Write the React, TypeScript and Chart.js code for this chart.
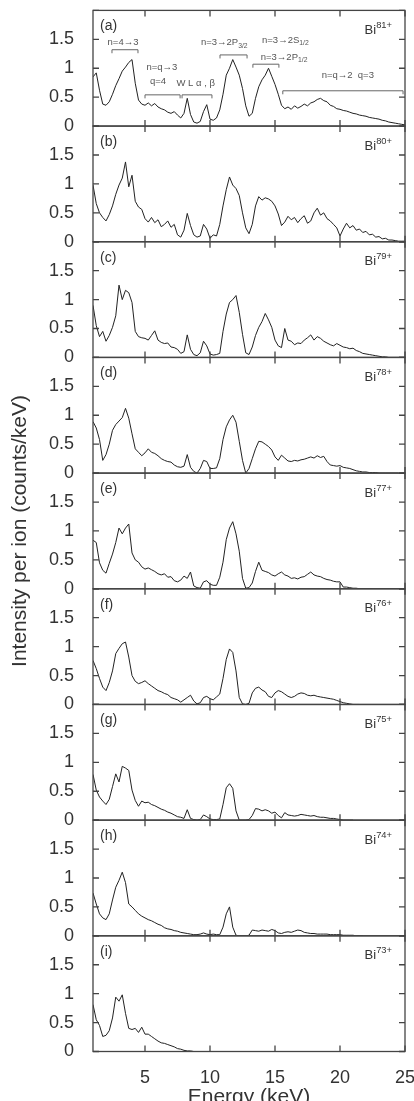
import React, { useEffect, useRef } from 'react';
import { Chart, registerables } from 'chart.js';

Chart.register(...registerables);

const FONT = '"Liberation Sans", Arial, Helvetica, sans-serif';

// Energy grid (keV)
const energy = [
  1.0, 1.25, 1.5, 1.75, 2.0, 2.25, 2.5, 2.75, 3.0, 3.25, 3.5, 3.75, 4.0, 4.25, 4.5, 4.75,
  5.0, 5.25, 5.5, 5.75, 6.0, 6.25, 6.5, 6.75, 7.0, 7.25, 7.5, 7.75, 8.0, 8.25, 8.5, 8.75,
  9.0, 9.25, 9.5, 9.75, 10.0, 10.25, 10.5, 10.75, 11.0, 11.25, 11.5, 11.75, 12.0, 12.25, 12.5, 12.75,
  13.0, 13.25, 13.5, 13.75, 14.0, 14.25, 14.5, 14.75, 15.0, 15.25, 15.5, 15.75, 16.0, 16.25, 16.5, 16.75,
  17.0, 17.25, 17.5, 17.75, 18.0, 18.25, 18.5, 18.75, 19.0, 19.25, 19.5, 19.75, 20.0, 20.25, 20.5, 20.75,
  21.0, 21.25, 21.5, 21.75, 22.0, 22.25, 22.5, 22.75, 23.0, 23.25, 23.5, 23.75, 24.0, 24.25, 24.5, 24.75, 25.0,
];

// Intensity per ion (counts/keV), one array per charge state
const spectrumA = [
  0.85, 0.92, 0.62, 0.38, 0.36, 0.42, 0.55, 0.70, 0.82, 0.95, 1.02, 1.10, 1.15, 0.74, 0.45, 0.38,
  0.36, 0.40, 0.35, 0.39, 0.33, 0.30, 0.28, 0.24, 0.22, 0.25, 0.19, 0.14, 0.22, 0.48, 0.20, 0.07,
  0.05, 0.08, 0.25, 0.37, 0.12, 0.10, 0.14, 0.28, 0.55, 0.88, 1.00, 1.15, 1.02, 0.88, 0.65, 0.35,
  0.17, 0.22, 0.48, 0.68, 0.80, 0.88, 1.00, 0.86, 0.72, 0.55, 0.36, 0.30, 0.33, 0.29, 0.35, 0.31,
  0.34, 0.38, 0.35, 0.40, 0.42, 0.46, 0.48, 0.44, 0.42, 0.36, 0.34, 0.30, 0.29, 0.27, 0.26, 0.24,
  0.22, 0.21, 0.19, 0.18, 0.17, 0.15, 0.14, 0.13, 0.12, 0.10, 0.09, 0.07, 0.06, 0.05, 0.04, 0.03, 0.02,
];
const spectrumB = [
  0.98, 0.66, 0.50, 0.42, 0.36, 0.47, 0.62, 0.82, 0.98, 1.10, 1.38, 0.95, 1.15, 0.70, 0.60, 0.56,
  0.40, 0.34, 0.42, 0.33, 0.38, 0.26, 0.30, 0.36, 0.25, 0.30, 0.12, 0.08, 0.20, 0.49, 0.28, 0.12,
  0.08, 0.10, 0.30, 0.22, 0.06, 0.12, 0.10, 0.30, 0.62, 0.90, 1.12, 0.98, 0.92, 0.80, 0.50, 0.24,
  0.14, 0.30, 0.62, 0.78, 0.72, 0.76, 0.74, 0.70, 0.62, 0.48, 0.28, 0.34, 0.44, 0.38, 0.42, 0.33,
  0.40, 0.45, 0.32, 0.36, 0.50, 0.58, 0.46, 0.50, 0.40, 0.36, 0.30, 0.24, 0.10, 0.22, 0.32, 0.24,
  0.28, 0.20, 0.22, 0.16, 0.18, 0.12, 0.13, 0.08, 0.09, 0.05, 0.06, 0.03, 0.03, 0.02, 0.01, 0.01, 0.01,
];
const spectrumC = [
  0.90, 0.55, 0.36, 0.45, 0.28, 0.38, 0.52, 0.72, 1.25, 1.00, 1.16, 1.12, 0.95, 0.45, 0.36, 0.34,
  0.33, 0.30, 0.38, 0.46, 0.30, 0.26, 0.24, 0.25, 0.18, 0.17, 0.14, 0.07, 0.10, 0.39, 0.14, 0.05,
  0.03, 0.08, 0.28, 0.20, 0.06, 0.04, 0.05, 0.07, 0.45, 0.75, 0.95, 1.00, 1.07, 0.78, 0.40, 0.08,
  0.05, 0.18, 0.38, 0.52, 0.62, 0.76, 0.65, 0.52, 0.30, 0.20, 0.17, 0.50, 0.30, 0.28, 0.22, 0.25,
  0.24, 0.30, 0.34, 0.39, 0.30, 0.36, 0.33, 0.28, 0.25, 0.22, 0.20, 0.24, 0.21, 0.18, 0.17, 0.15,
  0.16, 0.12, 0.10, 0.07, 0.06, 0.05, 0.04, 0.03, 0.02, 0.01, 0.01, 0.0, 0.0, 0.0, 0.0, 0.0, 0.0,
];
const spectrumD = [
  0.89, 0.78, 0.58, 0.22, 0.32, 0.50, 0.74, 0.84, 0.90, 0.96, 1.12, 0.95, 0.68, 0.42, 0.36, 0.30,
  0.35, 0.42, 0.36, 0.34, 0.30, 0.25, 0.22, 0.20, 0.19, 0.14, 0.11, 0.10, 0.12, 0.32, 0.10, 0.03,
  0.00, 0.08, 0.22, 0.20, 0.08, 0.08, 0.09, 0.25, 0.58, 0.80, 0.92, 1.00, 0.88, 0.55, 0.22, 0.00,
  0.08, 0.25, 0.42, 0.55, 0.54, 0.50, 0.46, 0.40, 0.28, 0.22, 0.31, 0.26, 0.21, 0.20, 0.22, 0.21,
  0.23, 0.24, 0.26, 0.28, 0.26, 0.30, 0.27, 0.29, 0.20, 0.14, 0.13, 0.12, 0.13, 0.10, 0.09, 0.08,
  0.06, 0.04, 0.03, 0.02, 0.02, 0.01, 0.01, 0.01, 0.0, 0.0, 0.0, 0.0, 0.0, 0.0, 0.0,
];
const spectrumE = [
  0.84, 0.80, 0.45, 0.32, 0.27, 0.44, 0.60, 0.80, 1.05, 0.95, 1.05, 1.12, 0.62, 0.50, 0.46, 0.38,
  0.34, 0.36, 0.33, 0.30, 0.26, 0.24, 0.26, 0.20, 0.21, 0.14, 0.12, 0.15, 0.22, 0.18, 0.29, 0.05,
  0.02, 0.01, 0.12, 0.14, 0.08, 0.06, 0.06, 0.20, 0.46, 0.85, 1.05, 1.16, 0.95, 0.65, 0.18, 0.01,
  0.02, 0.10, 0.30, 0.46, 0.32, 0.30, 0.28, 0.24, 0.22, 0.26, 0.29, 0.24, 0.22, 0.18, 0.19, 0.17,
  0.20, 0.21, 0.25, 0.29, 0.24, 0.22, 0.21, 0.18, 0.16, 0.15, 0.13, 0.12, 0.12, 0.03, 0.03, 0.02,
  0.01, 0.01, 0.0, 0.0, 0.0, 0.0, 0.0,
];
const spectrumF = [
  0.76, 0.62, 0.45, 0.30, 0.24, 0.38, 0.58, 0.88, 0.97, 1.05, 1.08, 0.82, 0.50, 0.40, 0.36, 0.38,
  0.41, 0.36, 0.32, 0.28, 0.24, 0.22, 0.19, 0.17, 0.12, 0.10, 0.08, 0.04, 0.08, 0.12, 0.16, 0.06,
  0.01, 0.03, 0.12, 0.14, 0.10, 0.08, 0.13, 0.18, 0.45, 0.78, 0.96, 0.90, 0.58, 0.12, 0.01, 0.0,
  0.02, 0.20, 0.28, 0.30, 0.25, 0.22, 0.14, 0.12, 0.20, 0.24, 0.22, 0.18, 0.14, 0.12, 0.14, 0.18,
  0.20, 0.19, 0.16, 0.15, 0.16, 0.14, 0.13, 0.12, 0.11, 0.10, 0.09, 0.07, 0.05, 0.03, 0.02, 0.01,
  0.0, 0.0, 0.0,
];
const spectrumG = [
  0.79, 0.52, 0.40, 0.33, 0.27, 0.36, 0.58, 0.80, 0.66, 0.93, 0.90, 0.86, 0.52, 0.34, 0.24, 0.33,
  0.30, 0.31, 0.27, 0.25, 0.22, 0.19, 0.17, 0.14, 0.12, 0.09, 0.06, 0.05, 0.03, 0.18, 0.03, 0.01,
  0.0, 0.01, 0.09, 0.06, 0.02, 0.01, 0.01, 0.02, 0.27, 0.56, 0.63, 0.55, 0.16, 0.0, 0.0, 0.0,
  0.01, 0.08, 0.20, 0.19, 0.16, 0.18, 0.16, 0.12, 0.14, 0.08, 0.04, 0.13, 0.09, 0.08, 0.07, 0.08,
  0.10, 0.09, 0.08, 0.07, 0.08, 0.06, 0.05, 0.05, 0.04, 0.03, 0.03, 0.02, 0.01, 0.0, 0.0, 0.0,
  0.0,
];
const spectrumH = [
  0.74, 0.55, 0.38, 0.31, 0.28, 0.38, 0.62, 0.84, 0.96, 1.10, 0.92, 0.55, 0.50, 0.44, 0.38, 0.34,
  0.31, 0.28, 0.26, 0.23, 0.20, 0.18, 0.14, 0.12, 0.11, 0.09, 0.08, 0.06, 0.05, 0.04, 0.03, 0.02,
  0.02, 0.03, 0.05, 0.03, 0.02, 0.03, 0.02, 0.02, 0.15, 0.38, 0.50, 0.15, 0.01, 0.0, 0.0, 0.0,
  0.01, 0.10, 0.09, 0.08, 0.10, 0.09, 0.08, 0.11, 0.09, 0.05, 0.04, 0.06, 0.07, 0.06, 0.08, 0.10,
  0.09, 0.06, 0.05, 0.04, 0.04, 0.03, 0.03, 0.03, 0.03, 0.02, 0.02, 0.02, 0.02, 0.01, 0.01, 0.01,
  0.01, 0.0, 0.0, 0.0,
];
const spectrumI = [
  0.81, 0.55, 0.45, 0.26, 0.28, 0.36, 0.58, 0.94, 0.87, 0.98, 0.66, 0.40, 0.38, 0.40, 0.33, 0.42,
  0.30, 0.30, 0.26, 0.22, 0.18, 0.15, 0.14, 0.12, 0.10, 0.08, 0.05, 0.04, 0.02, 0.01, 0.01, 0.0,
  0.0,
];

const spectra = [spectrumA, spectrumB, spectrumC, spectrumD, spectrumE, spectrumF, spectrumG, spectrumH, spectrumI];
const panelLetters = ['(a)', '(b)', '(c)', '(d)', '(e)', '(f)', '(g)', '(h)', '(i)'];
const ionCharges = ['81+', '80+', '79+', '78+', '77+', '76+', '75+', '74+', '73+'];
const panelIds = ['y0', 'y1', 'y2', 'y3', 'y4', 'y5', 'y6', 'y7', 'y8'];

const xTicks = [5, 10, 15, 20, 25];
const yTicks = [0, 0.5, 1, 1.5, 2];
const yTickLabels = ['0', '0.5', '1', '1.5', ''];

// Panel (a) transition annotations (energy in keV, level in intensity units)
const annotParts: [string, string][][] = [
  [['n=4→3', '']],
  [['n=q→3', '']],
  [['q=4', '']],
  [['W L α , β', '']],
  [['n=3→2P', ''], ['3/2', 'sub']],
  [['n=3→2S', ''], ['1/2', 'sub']],
  [['n=3→2P', ''], ['1/2', 'sub']],
  [['n=q→2  q=3', '']],
];
const annotEnergy = [3.31, 6.3, 6.0, 8.9, 11.1, 15.8, 15.7, 20.6];
const annotLevel = [1.45, 1.02, 0.78, 0.73, 1.44, 1.49, 1.19, 0.87];
const bracketStart = [2.46, 5.0, 7.85, 10.77, 13.3, 15.6];
const bracketEnd = [4.46, 7.7, 10.15, 12.85, 15.3, 24.85];
const bracketLevel = [1.32, 0.54, 0.54, 1.23, 1.07, 0.61];

function drawRich(ctx: CanvasRenderingContext2D, parts: [string, string][], x: number, y: number, size: number, align: 'center' | 'right' | 'left') {
  const fs = (k: string) => (k ? size * 0.72 : size);
  let w = 0;
  parts.forEach(([t, k]) => {
    ctx.font = `${fs(k)}px ${FONT}`;
    w += ctx.measureText(t).width;
  });
  let cx = align === 'center' ? x - w / 2 : align === 'right' ? x - w : x;
  ctx.textAlign = 'left';
  ctx.textBaseline = 'middle';
  parts.forEach(([t, k]) => {
    ctx.font = `${fs(k)}px ${FONT}`;
    const dy = k === 'sub' ? size * 0.32 : k === 'sup' ? -size * 0.38 : 0;
    ctx.fillText(t, cx, y + dy);
    cx += ctx.measureText(t).width;
  });
}

const framePlugin = {
  id: 'panelFrames',
  afterDatasetsDraw(chart: any) {
    const { ctx, chartArea } = chart;
    const xs = chart.scales.x;
    const L = chartArea.left;
    const R = chartArea.right;
    const T = 6;
    ctx.save();
    ctx.strokeStyle = '#444';
    ctx.lineWidth = 1.3;
    panelIds.forEach((id, k) => {
      const s = chart.scales[id];
      const top = s.top;
      const bot = s.bottom;
      ctx.strokeRect(L, top, R - L, bot - top);
      ctx.beginPath();
      xTicks.forEach((v) => {
        const px = xs.getPixelForValue(v);
        ctx.moveTo(px, top);
        ctx.lineTo(px, top + T);
        ctx.moveTo(px, bot);
        ctx.lineTo(px, bot - T);
      });
      yTicks.forEach((v) => {
        const py = s.getPixelForValue(v);
        ctx.moveTo(L, py);
        ctx.lineTo(L + T, py);
        ctx.moveTo(R, py);
        ctx.lineTo(R - T, py);
      });
      ctx.stroke();

      ctx.fillStyle = '#333';
      drawRich(ctx, [[panelLetters[k], '']], L + 7, top + 16, 14, 'left');
      drawRich(ctx, [['Bi', ''], [ionCharges[k], 'sup']], R - 13, top + 20, 13, 'right');
    });

    // annotations in panel (a)
    const sa = chart.scales[panelIds[0]];
    ctx.fillStyle = '#555';
    annotParts.forEach((parts, i) => {
      drawRich(ctx, parts, xs.getPixelForValue(annotEnergy[i]), sa.getPixelForValue(annotLevel[i]), 9.5, 'center');
    });
    ctx.strokeStyle = '#666';
    ctx.lineWidth = 1;
    ctx.beginPath();
    bracketStart.forEach((b, i) => {
      const x1 = xs.getPixelForValue(b);
      const x2 = xs.getPixelForValue(bracketEnd[i]);
      const py = sa.getPixelForValue(bracketLevel[i]);
      ctx.moveTo(x1, py + 3.5);
      ctx.lineTo(x1, py);
      ctx.lineTo(x2, py);
      ctx.lineTo(x2, py + 3.5);
    });
    ctx.stroke();
    ctx.restore();
  },
};

export default function App() {
  const ref = useRef<HTMLCanvasElement | null>(null);
  useEffect(() => {
    if (!ref.current) return;
    const scales: any = {
      x: {
        type: 'linear',
        position: 'bottom',
        min: 1,
        max: 25,
        afterBuildTicks: (s: any) => {
          s.ticks = xTicks.map((v) => ({ value: v }));
        },
        afterFit: (s: any) => {
          s.height = 68.5;
          s.paddingLeft = 0;
          s.paddingRight = 0;
        },
        grid: { display: false },
        border: { display: false },
        ticks: { font: { family: FONT, size: 18 }, color: '#333', padding: 8, maxRotation: 0, autoSkip: false },
        title: {
          display: true,
          text: 'Energy (keV)',
          font: { family: FONT, size: 21 },
          color: '#333',
          padding: { top: 0, bottom: 10.4 },
        },
      },
    };
    // stacked left axes: the last one defined is placed at the top, so define bottom panel first
    panelIds
      .map((id, k) => ({ id, k }))
      .reverse()
      .forEach(({ id, k }) => {
        scales[id] = {
          type: 'linear',
          position: 'left',
          stack: 'panels',
          stackWeight: 1,
          min: 0,
          max: 2,
          afterBuildTicks: (s: any) => {
            s.ticks = yTicks.map((v) => ({ value: v }));
          },
          afterFit: (s: any) => {
            s.width = 93;
            s.paddingTop = 0;
            s.paddingBottom = 0;
          },
          grid: { display: false },
          border: { display: false },
          ticks: {
            font: { family: FONT, size: 18 },
            color: '#333',
            padding: 11,
            autoSkip: false,
            callback: (_v: any, i: number) => yTickLabels[i],
          },
          title:
            k === 4
              ? {
                  display: true,
                  text: 'Intensity per ion (counts/keV)',
                  font: { family: FONT, size: 21 },
                  color: '#333',
                  padding: { top: 7.4, bottom: 0 },
                }
              : { display: false },
        };
      });

    const chart = new Chart(ref.current, {
      type: 'line',
      data: {
        datasets: spectra.map((vals, k) => ({
          label: 'Bi' + ionCharges[k],
          data: energy.map((e, i) => ({ x: e, y: i < vals.length ? vals[i] : null })),
          yAxisID: panelIds[k],
          borderColor: '#222',
          borderWidth: 1,
          pointRadius: 0,
          tension: 0,
          fill: false,
        })),
      },
      options: {
        responsive: false,
        animation: false,
        layout: { padding: { top: 10.4, right: 9, left: 0, bottom: 0 } },
        plugins: { legend: { display: false }, tooltip: { enabled: false } },
        scales,
      },
      plugins: [framePlugin],
    } as any);
    return () => chart.destroy();
  }, []);

  return (
    <div style={{ position: 'absolute', left: 0, top: 0, width: 414, height: 1101, overflow: 'hidden', background: '#fff' }}>
      <canvas ref={ref} width={414} height={1120} style={{ display: 'block' }} />
    </div>
  );
}
